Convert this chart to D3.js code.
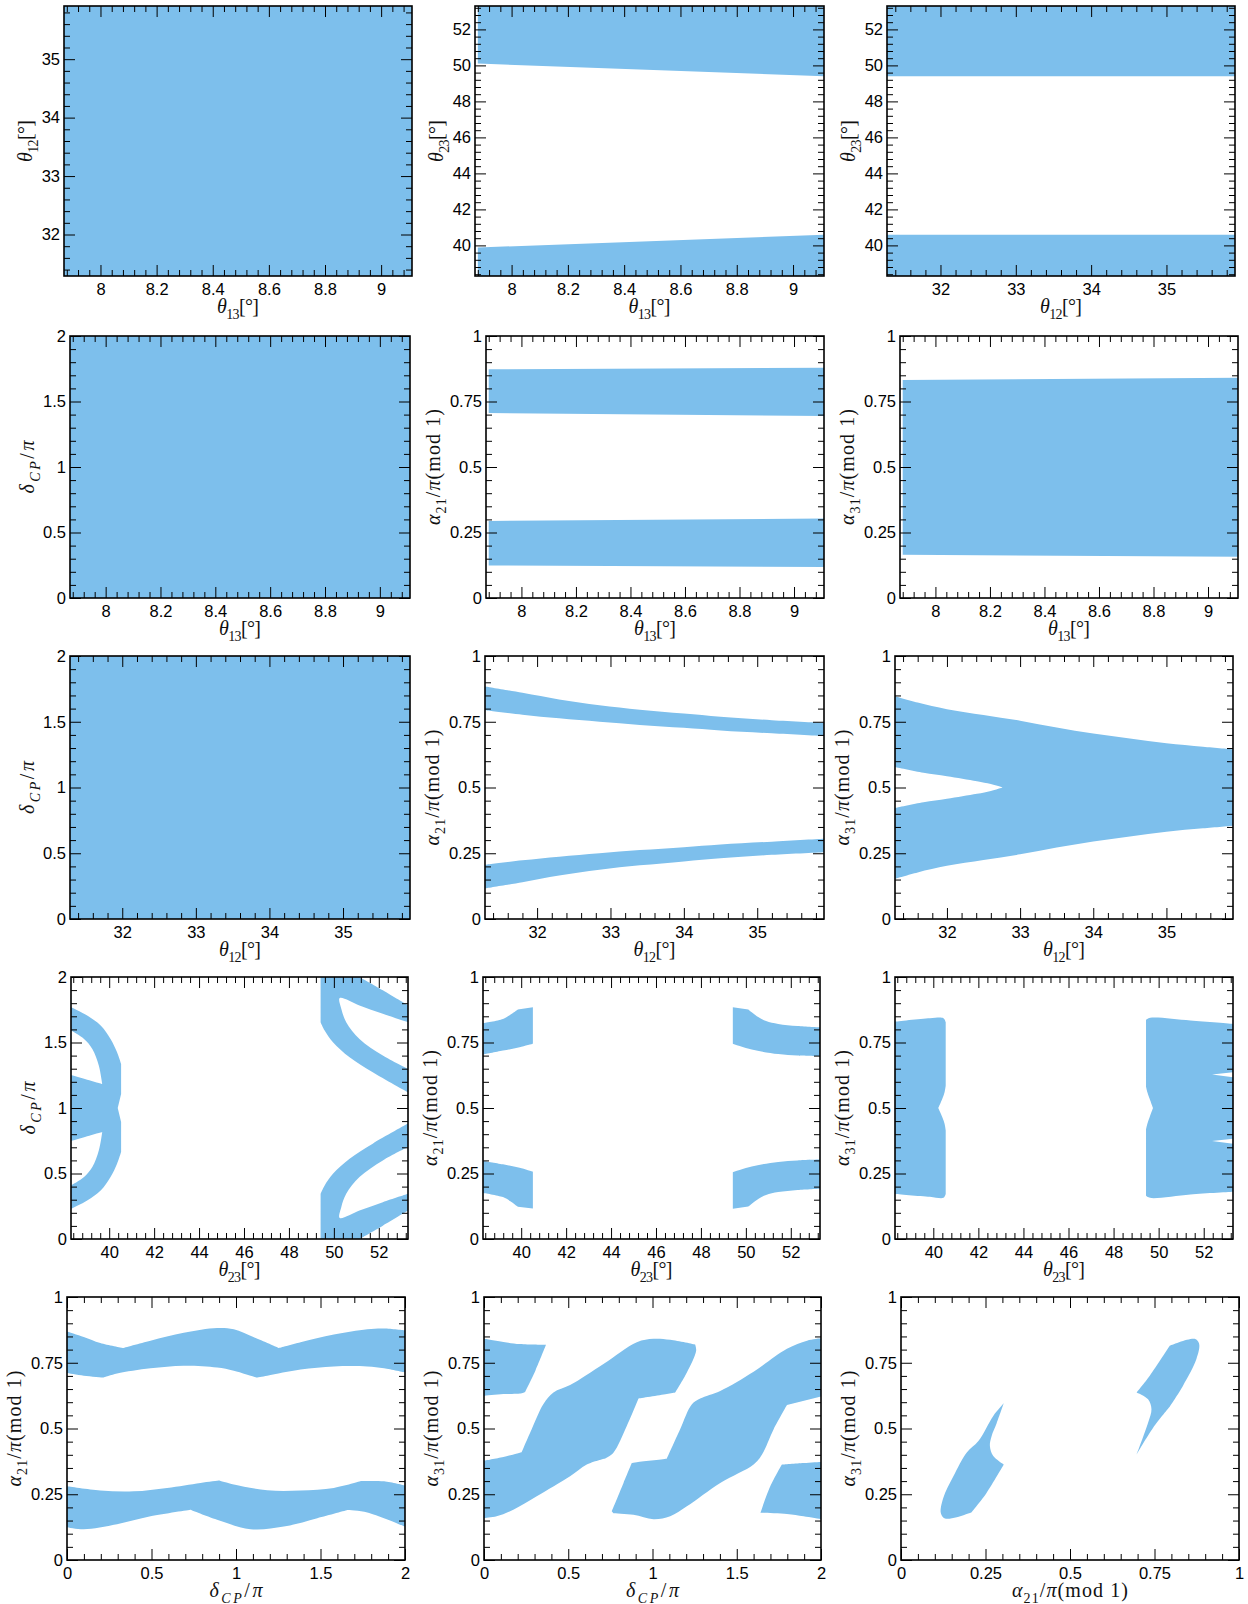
<!DOCTYPE html>
<html>
<head>
<meta charset="utf-8">
<script src="https://cdn.jsdelivr.net/npm/d3@7"></script>
<style>
  body { margin: 0; background: #fff; }
  svg { display: block; }
</style>
</head>
<body>
<svg id="fig" width="1248" height="1604"></svg>
<script>
// ---------- parameter ranges (angles in degrees, phases in units of pi) ----------
const th12Range = [31.29, 35.91];
const th13Range = [7.87, 9.11];
const th23Range = [38.3, 53.3];
const deltaRange = [0, 2];
const alphaRange = [0, 1];

// ---------- tick labels ----------
const th12Ticks = [32, 33, 34, 35];
const th13Ticks = [8, 8.2, 8.4, 8.6, 8.8, 9];
const th23Ticks = [40, 42, 44, 46, 48, 50, 52];
const deltaTicks = [0, 0.5, 1, 1.5, 2];
const alphaTicks = [0, 0.25, 0.5, 0.75, 1];

// ---------- allowed regions: outlines [x, y, corner?] in data units ----------
// a third entry of 1 marks a sharp corner; other points lie on smooth edges

// theta13 vs theta12: whole range allowed
const th13Th12Full = [[th13Range[0], th12Range[0], 1], [th13Range[1], th12Range[0], 1], [th13Range[1], th12Range[1], 1], [th13Range[0], th12Range[1], 1]];

// theta13 vs theta23
const th13Th23Upper = [[7.88, 53.3, 1], [9.11, 53.3, 1], [9.11, 49.4, 1], [7.88, 50.1, 1]];
const th13Th23Lower = [[7.88, 38.3, 1], [9.11, 38.3, 1], [9.11, 40.59, 1], [7.88, 39.88, 1]];

// theta12 vs theta23
const th12Th23Upper = [[31.29, 53.3, 1], [35.91, 53.3, 1], [35.91, 49.4, 1], [31.29, 49.4, 1]];
const th12Th23Lower = [[31.29, 38.3, 1], [35.91, 38.3, 1], [35.91, 40.59, 1], [31.29, 40.59, 1]];

// theta13 vs deltaCP: whole range allowed
const th13DeltaFull = [[th13Range[0], 0, 1], [th13Range[1], 0, 1], [th13Range[1], 2, 1], [th13Range[0], 2, 1]];

// theta13 vs alpha21
const th13A21Upper = [[7.88, 0.873, 1], [9.11, 0.879, 1], [9.11, 0.695, 1], [7.88, 0.706, 1]];
const th13A21Lower = [[7.88, 0.294, 1], [9.11, 0.303, 1], [9.11, 0.118, 1], [7.88, 0.124, 1]];

// theta13 vs alpha31
const th13A31Band = [[7.88, 0.832, 1], [9.11, 0.841, 1], [9.11, 0.157, 1], [7.88, 0.165, 1]];

// theta12 vs deltaCP: whole range allowed
const th12DeltaFull = [[th12Range[0], 0, 1], [th12Range[1], 0, 1], [th12Range[1], 2, 1], [th12Range[0], 2, 1]];

// theta12 vs alpha21
const th12A21UpperTop = [[31.29, 0.884, 1], [31.8, 0.86], [32.3, 0.835], [32.85, 0.813], [33.4, 0.796], [34.0, 0.781], [34.5, 0.769], [35.2, 0.756], [35.91, 0.746, 1]];
const th12A21UpperBottom = [[31.29, 0.794, 1], [31.8, 0.777], [32.3, 0.763], [32.85, 0.75], [33.4, 0.738], [34.0, 0.727], [34.5, 0.717], [35.2, 0.706], [35.91, 0.695, 1]];
const th12A21LowerTop = [[31.29, 0.206, 1], [31.8, 0.223], [32.3, 0.237], [32.85, 0.25], [33.4, 0.262], [34.0, 0.273], [34.5, 0.283], [35.2, 0.294], [35.91, 0.305, 1]];
const th12A21LowerBottom = [[31.29, 0.116, 1], [31.8, 0.14], [32.3, 0.165], [32.85, 0.187], [33.4, 0.204], [34.0, 0.219], [34.5, 0.231], [35.2, 0.244], [35.91, 0.254, 1]];

// theta12 vs alpha31 (one region with a notch around 0.5)
const th12A31Top = [[31.29, 0.847, 1], [31.6, 0.823], [32, 0.798], [32.5, 0.776], [33, 0.754], [33.5, 0.728], [34, 0.705], [34.5, 0.686], [35, 0.668], [35.5, 0.655], [35.91, 0.645, 1]];
const th12A31Bottom = [[35.91, 0.355, 1], [35.5, 0.345], [35, 0.332], [34.5, 0.314], [34, 0.295], [33.5, 0.272], [33, 0.246], [32.5, 0.224], [32, 0.202], [31.6, 0.177], [31.29, 0.153, 1]];
const th12A31Notch = [[31.29, 0.422, 1], [31.68, 0.444], [32, 0.457], [32.41, 0.476], [32.6, 0.487], [32.76, 0.5, 1], [32.6, 0.513], [32.41, 0.524], [32, 0.543], [31.68, 0.556], [31.29, 0.578, 1]];

// theta23 vs deltaCP
const th23DeltaLeft = [
  [38.3, 1.0, 1], [38.3, 1.252, 1], [39.02, 1.216], [39.69, 1.183, 1], [39.54, 1.323], [39.25, 1.451], [38.88, 1.527], [38.3, 1.591, 1],
  [38.3, 1.77, 1], [39.02, 1.706], [39.62, 1.63], [40.06, 1.527], [40.35, 1.425], [40.53, 1.336, 1], [40.53, 1.106, 1], [40.38, 1.0, 1],
  [40.53, 0.894, 1], [40.53, 0.664, 1], [40.35, 0.575], [40.06, 0.473], [39.62, 0.37], [39.02, 0.294], [38.3, 0.23, 1],
  [38.3, 0.409, 1], [38.88, 0.473], [39.25, 0.549], [39.54, 0.677], [39.69, 0.817, 1], [39.02, 0.784], [38.3, 0.748, 1]
];
const th23DeltaRightUpper = [
  [49.41, 2.0, 1], [51.14, 2.0, 1], [52.18, 1.898], [53.3, 1.783, 1], [53.3, 1.655, 1], [52.18, 1.719], [51.14, 1.783], [50.26, 1.839],
  [50.33, 1.757], [50.55, 1.655], [51.14, 1.527], [52.18, 1.40], [53.3, 1.298, 1], [53.3, 1.119, 1],
  [51.73, 1.272], [50.7, 1.387], [49.96, 1.502], [49.59, 1.591], [49.41, 1.655, 1]
];
const th23DeltaRightLower = [
  [49.41, 0.0, 1], [51.14, 0.0, 1], [52.18, 0.102], [53.3, 0.217, 1], [53.3, 0.345, 1], [52.18, 0.281], [51.14, 0.217], [50.26, 0.161],
  [50.33, 0.243], [50.55, 0.345], [51.14, 0.473], [52.18, 0.60], [53.3, 0.702, 1], [53.3, 0.881, 1],
  [51.73, 0.728], [50.7, 0.613], [49.96, 0.498], [49.59, 0.409], [49.41, 0.345, 1]
];

// theta23 vs alpha21
const th23A21LeftUpper = [[38.3, 0.824, 1], [39.19, 0.840], [39.5, 0.855], [39.85, 0.876, 1], [40.52, 0.885, 1], [40.52, 0.745, 1], [39.93, 0.732], [39.19, 0.719], [38.3, 0.704, 1]];
const th23A21LeftLower = [[38.3, 0.298, 1], [39.19, 0.285], [39.93, 0.272], [40.52, 0.257, 1], [40.52, 0.116, 1], [39.85, 0.123, 1], [39.5, 0.145], [39.19, 0.16], [38.3, 0.176, 1]];
const th23A21RightUpper = [[49.42, 0.885, 1], [50.11, 0.876, 1], [50.55, 0.847], [50.9, 0.832], [51.44, 0.821], [52.3, 0.813], [53.3, 0.808, 1], [53.3, 0.697, 1], [52.3, 0.700], [51.44, 0.706], [50.26, 0.723], [49.42, 0.745, 1]];
const th23A21RightLower = [[49.42, 0.255, 1], [50.26, 0.277], [51.44, 0.294], [52.3, 0.300], [53.3, 0.303, 1], [53.3, 0.192, 1], [52.3, 0.187], [51.44, 0.179], [50.9, 0.168], [50.55, 0.153], [50.11, 0.124, 1], [49.42, 0.115, 1]];

// theta23 vs alpha31
const th23A31Left = [
  [38.3, 0.830, 1], [39.85, 0.843], [40.45, 0.843], [40.55, 0.828, 1], [40.55, 0.585, 1], [40.5, 0.56], [40.4, 0.535], [40.22, 0.5, 1],
  [40.4, 0.465], [40.5, 0.44], [40.55, 0.415, 1], [40.55, 0.172, 1], [40.45, 0.157], [39.85, 0.161], [38.3, 0.172, 1]
];
const th23A31Right = [
  [49.44, 0.836, 1], [49.62, 0.844], [51.41, 0.834], [53.3, 0.821, 1], [53.3, 0.636, 1], [52.37, 0.628, 1], [53.3, 0.617, 1],
  [53.3, 0.383, 1], [52.37, 0.374, 1], [53.3, 0.364, 1], [53.3, 0.180, 1], [51.41, 0.170], [49.62, 0.157], [49.44, 0.165, 1],
  [49.44, 0.419, 1], [49.5, 0.44], [49.6, 0.465], [49.75, 0.5, 1], [49.6, 0.535], [49.5, 0.56], [49.44, 0.581, 1]
];

// deltaCP vs alpha21
const dA21UpperTop = [[0, 0.869, 1], [0.099, 0.848], [0.197, 0.825], [0.33, 0.806, 1], [0.494, 0.834], [0.691, 0.864], [0.888, 0.882], [0.987, 0.877], [1.106, 0.847], [1.254, 0.806, 1], [1.382, 0.828], [1.579, 0.857], [1.777, 0.877], [1.876, 0.880], [2, 0.873, 1]];
const dA21UpperBottom = [[0, 0.711, 1], [0.099, 0.701], [0.217, 0.694, 1], [0.296, 0.709], [0.494, 0.729], [0.691, 0.739], [0.888, 0.732], [0.987, 0.720], [1.12, 0.694, 1], [1.185, 0.701], [1.382, 0.724], [1.579, 0.736], [1.777, 0.736], [1.876, 0.729], [2, 0.713, 1]];
const dA21LowerTop = [[0, 0.280, 1], [0.197, 0.264], [0.395, 0.261], [0.592, 0.274], [0.79, 0.293], [0.9, 0.302, 1], [0.987, 0.287], [1.185, 0.265], [1.382, 0.264], [1.579, 0.274], [1.74, 0.300, 1], [1.876, 0.299], [2, 0.283, 1]];
const dA21LowerBottom = [[0, 0.125, 1], [0.099, 0.117], [0.296, 0.136], [0.494, 0.166], [0.731, 0.191, 1], [0.888, 0.153], [1.086, 0.117], [1.283, 0.127], [1.481, 0.159], [1.66, 0.19, 1], [1.777, 0.181], [2, 0.127, 1]];

// deltaCP vs alpha31
const dA31PieceA = [[0, 0.841, 1], [0.115, 0.829], [0.214, 0.821], [0.368, 0.818, 1], [0.305, 0.72], [0.244, 0.639, 1], [0.214, 0.633], [0.115, 0.631], [0, 0.624, 1]];
const dA31PieceB = [[0, 0.378, 1], [0.115, 0.392], [0.224, 0.41, 1], [0.283, 0.497], [0.352, 0.592], [0.412, 0.637], [0.511, 0.665], [0.709, 0.745], [0.907, 0.828], [1.006, 0.841], [1.105, 0.837], [1.253, 0.819, 1], [1.259, 0.796], [1.204, 0.713], [1.135, 0.637, 1], [1.085, 0.631], [0.917, 0.614, 1], [0.848, 0.510], [0.768, 0.408], [0.719, 0.386, 1], [0.610, 0.363], [0.511, 0.318], [0.313, 0.242], [0.174, 0.191], [0.075, 0.166], [0, 0.159, 1]];
const dA31PieceC = [[0.758, 0.185, 1], [0.828, 0.293], [0.877, 0.369, 1], [0.907, 0.372], [1.085, 0.385, 1], [1.164, 0.497], [1.234, 0.592], [1.283, 0.614], [1.402, 0.643], [1.6, 0.716], [1.798, 0.803], [1.917, 0.834], [2, 0.843, 1], [2, 0.622, 1], [1.798, 0.589, 1], [1.719, 0.497], [1.650, 0.401], [1.600, 0.363], [1.402, 0.293], [1.204, 0.204], [1.105, 0.166], [1.006, 0.155], [0.887, 0.172], [0.768, 0.178, 1]];
const dA31PieceD = [[1.640, 0.178, 1], [1.699, 0.280], [1.768, 0.363, 1], [1.897, 0.369], [2, 0.373, 1], [2, 0.155, 1], [1.897, 0.166], [1.798, 0.175], [1.640, 0.180, 1]];

// alpha21 vs alpha31
const a21A31Lower = [[0.304, 0.596, 1], [0.273, 0.548], [0.229, 0.452], [0.194, 0.408], [0.155, 0.318], [0.125, 0.236], [0.118, 0.178], [0.130, 0.158], [0.165, 0.163], [0.209, 0.182, 1], [0.253, 0.255], [0.304, 0.363, 1], [0.273, 0.395], [0.263, 0.433], [0.268, 0.471], [0.283, 0.52]];
const a21A31Upper = [[0.697, 0.637, 1], [0.736, 0.701], [0.795, 0.815, 1], [0.869, 0.841], [0.882, 0.822], [0.874, 0.764], [0.834, 0.662], [0.795, 0.583, 1], [0.746, 0.503], [0.697, 0.401, 1], [0.731, 0.522], [0.741, 0.573], [0.731, 0.611]];

// ---------- styling / layout ----------
const FILL = "#7dbfec";
const TICK_FONT = "'Liberation Sans', Arial, Helvetica, sans-serif";
const LABEL_FONT = "'Liberation Serif', 'Times New Roman', serif";
const TICK_SIZE = 16.5;
const LABEL_SIZE = 20;

// frame of each panel: row [top, bottom], column [left, right]
const rowExtent = [[6, 276], [336, 598], [656, 919], [977, 1239], [1297, 1560]];
const colExtent = [
  [[64, 412], [475, 824], [887, 1235]],
  [[70, 410], [486, 824], [900, 1238]],
  [[70, 410], [485, 824], [895, 1233]],
  [[71, 408], [483, 820], [895, 1233]],
  [[67, 405], [484, 821], [901, 1239]]
];

// axis label pieces: [text, style] (i = italic, r = roman, si/sr = subscript) and drawn width
const axisDefs = {
  th12: { domain: th12Range, ticks: th12Ticks, minor: 0.2, labelWidth: 42, label: [["θ", "i"], ["12", "sr"], ["[°]", "r"]] },
  th13: { domain: th13Range, ticks: th13Ticks, minor: 0.04, labelWidth: 42, label: [["θ", "i"], ["13", "sr"], ["[°]", "r"]] },
  th23: { domain: th23Range, ticks: th23Ticks, minor: 0.4, labelWidth: 42, label: [["θ", "i"], ["23", "sr"], ["[°]", "r"]] },
  dcp: { domain: deltaRange, ticks: deltaTicks, minor: 0.1, labelWidth: 53, label: [["δ", "i"], ["CP", "si"], ["/", "r"], ["π", "i"]] },
  a21: { domain: alphaRange, ticks: alphaTicks, minor: 0.05, labelWidth: 116, label: [["α", "i"], ["21", "sr"], ["/", "r"], ["π", "i"], ["(mod 1)", "r"]] },
  a31: { domain: alphaRange, ticks: alphaTicks, minor: 0.05, labelWidth: 116, label: [["α", "i"], ["31", "sr"], ["/", "r"], ["π", "i"], ["(mod 1)", "r"]] }
};

const panels = [
  { x: "th13", y: "th12", regions: [th13Th12Full] },
  { x: "th13", y: "th23", regions: [th13Th23Upper, th13Th23Lower] },
  { x: "th12", y: "th23", regions: [th12Th23Upper, th12Th23Lower] },
  { x: "th13", y: "dcp", regions: [th13DeltaFull] },
  { x: "th13", y: "a21", regions: [th13A21Upper, th13A21Lower] },
  { x: "th13", y: "a31", regions: [th13A31Band] },
  { x: "th12", y: "dcp", regions: [th12DeltaFull] },
  { x: "th12", y: "a21", regions: [
      th12A21UpperTop.concat(th12A21UpperBottom.slice().reverse()),
      th12A21LowerTop.concat(th12A21LowerBottom.slice().reverse())] },
  { x: "th12", y: "a31", regions: [th12A31Top.concat(th12A31Bottom, th12A31Notch)] },
  { x: "th23", y: "dcp", regions: [th23DeltaLeft, th23DeltaRightUpper, th23DeltaRightLower] },
  { x: "th23", y: "a21", regions: [th23A21LeftUpper, th23A21LeftLower, th23A21RightUpper, th23A21RightLower] },
  { x: "th23", y: "a31", regions: [th23A31Left, th23A31Right] },
  { x: "dcp", y: "a21", regions: [
      dA21UpperTop.concat(dA21UpperBottom.slice().reverse()),
      dA21LowerTop.concat(dA21LowerBottom.slice().reverse())] },
  { x: "dcp", y: "a31", regions: [dA31PieceA, dA31PieceB, dA31PieceC, dA31PieceD] },
  { x: "a21", y: "a31", regions: [a21A31Lower, a21A31Upper] }
];

// ---------- helpers ----------
const svg = d3.select("#fig");

function tickFmt(v) { return String(+(+v).toFixed(4)); }

function minorValues(domain, step, majors) {
  const out = [];
  const n0 = Math.ceil(domain[0] / step - 1e-9), n1 = Math.floor(domain[1] / step + 1e-9);
  for (let k = n0; k <= n1; k++) {
    const v = +(k * step).toFixed(6);
    if (!majors.some(m => Math.abs(m - v) < step * 0.01)) out.push(v);
  }
  return out;
}

// closed outline: smooth Catmull-Rom runs between the flagged corner points
function ringPath(pts, x, y) {
  const P = pts.map(d => [x(d[0]), y(d[1])]);
  const path = d3.path();
  const corners = pts.map((d, i) => (d[2] ? i : -1)).filter(i => i >= 0);
  if (corners.length === 0) {
    d3.line().curve(d3.curveCatmullRomClosed.alpha(0.5)).context(path)(P);
    return path.toString();
  }
  const s0 = corners[0];
  const ring = P.slice(s0).concat(P.slice(0, s0 + 1));
  const flags = pts.slice(s0).concat(pts.slice(0, s0 + 1)).map(d => !!d[2]);
  let first = true;
  const ctx = {
    moveTo(a, b) { if (first) { path.moveTo(a, b); first = false; } else path.lineTo(a, b); },
    lineTo(a, b) { path.lineTo(a, b); },
    bezierCurveTo(a, b, c, d, e, f) { path.bezierCurveTo(a, b, c, d, e, f); },
    closePath() {}
  };
  const gen = d3.line().curve(d3.curveCatmullRom.alpha(0.5)).context(ctx);
  let s = 0;
  for (let i = 1; i < ring.length; i++) {
    if (flags[i] || i === ring.length - 1) { gen(ring.slice(s, i + 1)); s = i; }
  }
  path.closePath();
  return path.toString();
}

function writeMath(text, parts, size) {
  let prevSub = false;
  const shift = size * 0.3;
  parts.forEach(([s, st]) => {
    const sub = st[0] === "s";
    const t = text.append("tspan")
      .text(s)
      .attr("font-style", st.endsWith("i") ? "italic" : "normal")
      .attr("font-size", sub ? size * 0.7 : size);
    if (sub && !prevSub) t.attr("dy", shift);
    if (!sub && prevSub) t.attr("dy", -shift);
    prevSub = sub;
  });
}

function styleAxis(g) {
  g.select(".domain").remove();
  g.attr("font-family", TICK_FONT).attr("font-size", TICK_SIZE);
  g.selectAll("line").attr("stroke", "#000").attr("stroke-width", 1);
  g.selectAll("text").attr("fill", "#000");
}

// ---------- draw ----------
panels.forEach((p, i) => {
  const r = Math.floor(i / 3), c = i % 3;
  const [top, bottom] = rowExtent[r];
  const [left, right] = colExtent[r][c];
  const xa = axisDefs[p.x], ya = axisDefs[p.y];
  const x = d3.scaleLinear().domain(xa.domain).range([left, right]);
  const y = d3.scaleLinear().domain(ya.domain).range([bottom, top]);

  const g = svg.append("g").attr("class", "panel");
  const clipId = "clip" + i;
  g.append("clipPath").attr("id", clipId)
    .append("rect").attr("x", left).attr("y", top).attr("width", right - left).attr("height", bottom - top);

  g.append("g").attr("clip-path", `url(#${clipId})`)
    .selectAll("path").data(p.regions).join("path")
    .attr("d", d => ringPath(d, x, y))
    .attr("fill", FILL)
    .attr("stroke", "none");

  const BIG = 11, SMALL = 6;
  const xMinor = minorValues(xa.domain, xa.minor, xa.ticks);
  const yMinor = minorValues(ya.domain, ya.minor, ya.ticks);

  // bottom
  g.append("g").attr("transform", `translate(0,${bottom})`)
    .call(d3.axisBottom(x).tickValues(xa.ticks).tickFormat(tickFmt).tickSizeInner(-BIG).tickSizeOuter(0).tickPadding(7))
    .call(styleAxis);
  g.append("g").attr("transform", `translate(0,${bottom})`)
    .call(d3.axisBottom(x).tickValues(xMinor).tickFormat("").tickSizeInner(-SMALL).tickSizeOuter(0))
    .call(styleAxis);
  // top
  g.append("g").attr("transform", `translate(0,${top})`)
    .call(d3.axisTop(x).tickValues(xa.ticks).tickFormat("").tickSizeInner(-BIG).tickSizeOuter(0))
    .call(styleAxis);
  g.append("g").attr("transform", `translate(0,${top})`)
    .call(d3.axisTop(x).tickValues(xMinor).tickFormat("").tickSizeInner(-SMALL).tickSizeOuter(0))
    .call(styleAxis);
  // left
  const yAxisG = g.append("g").attr("transform", `translate(${left},0)`)
    .call(d3.axisLeft(y).tickValues(ya.ticks).tickFormat(tickFmt).tickSizeInner(-BIG).tickSizeOuter(0).tickPadding(4))
    .call(styleAxis);
  g.append("g").attr("transform", `translate(${left},0)`)
    .call(d3.axisLeft(y).tickValues(yMinor).tickFormat("").tickSizeInner(-SMALL).tickSizeOuter(0))
    .call(styleAxis);
  // right
  g.append("g").attr("transform", `translate(${right},0)`)
    .call(d3.axisRight(y).tickValues(ya.ticks).tickFormat("").tickSizeInner(-BIG).tickSizeOuter(0))
    .call(styleAxis);
  g.append("g").attr("transform", `translate(${right},0)`)
    .call(d3.axisRight(y).tickValues(yMinor).tickFormat("").tickSizeInner(-SMALL).tickSizeOuter(0))
    .call(styleAxis);

  // frame
  g.append("rect")
    .attr("x", left).attr("y", top).attr("width", right - left).attr("height", bottom - top)
    .attr("fill", "none").attr("stroke", "#000").attr("stroke-width", 1.6);

  // x label
  const xl = g.append("text")
    .attr("x", (left + right) / 2).attr("y", bottom + 36.5)
    .attr("text-anchor", "middle")
    .attr("textLength", xa.labelWidth).attr("lengthAdjust", "spacing")
    .attr("font-family", LABEL_FONT).attr("fill", "#111");
  writeMath(xl, xa.label, LABEL_SIZE);

  // y label, just left of the widest tick label
  let minX = 0;
  yAxisG.selectAll("text").each(function () {
    minX = Math.min(minX, this.getBBox().x);
  });
  const lx = left + minX - 9.5, ly = (top + bottom) / 2;
  const yl = g.append("text")
    .attr("transform", `translate(${lx},${ly}) rotate(-90)`)
    .attr("text-anchor", "middle")
    .attr("textLength", ya.labelWidth).attr("lengthAdjust", "spacing")
    .attr("font-family", LABEL_FONT).attr("fill", "#111");
  writeMath(yl, ya.label, LABEL_SIZE);
});
</script>
</body>
</html>
